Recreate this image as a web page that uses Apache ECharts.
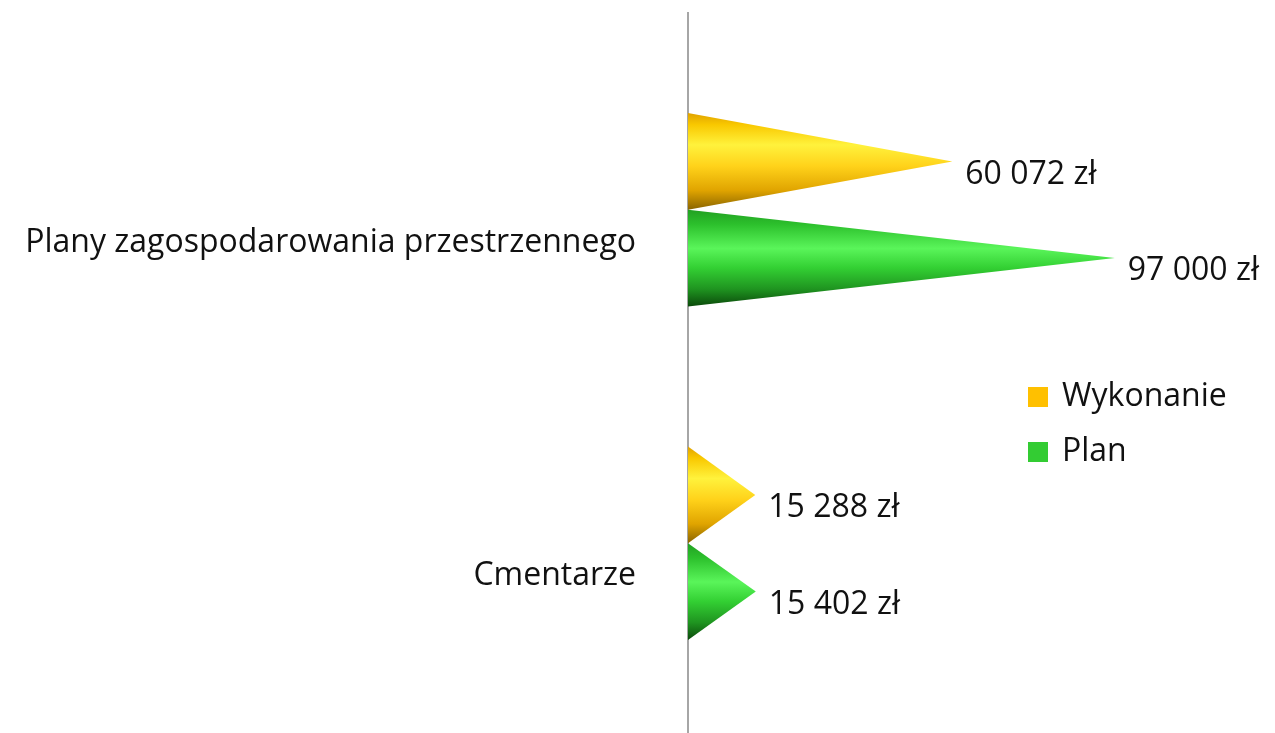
<!DOCTYPE html>
<html><head><meta charset="utf-8">
<script src="https://cdn.jsdelivr.net/npm/echarts@6/dist/echarts.min.js"></script>
<style>html,body{margin:0;padding:0;background:#fff}#c{width:1275px;height:733px}</style>
</head><body><div id="c"></div>
<script>
const categories = ['Cmentarze', 'Plany zagospodarowania przestrzennego'];
const wykonanie = [15288, 60072];
const plan = [15402, 97000];
const seriesNames = ['Wykonanie', 'Plan'];

const FONT = '"Open Sans"';
const FS = 32;
function fmt(v){ return String(v).replace(/\B(?=(\d{3})+(?!\d))/g, ' ') + ' zł'; }
const tri = 'path://M0,0 L100,50 L0,100 Z';
function grad(stops){ return {type:'linear',x:0,y:0,x2:0,y2:1,colorStops:stops}; }
const goldGrad = grad([
  {offset:0,color:'#e0a200'},{offset:0.12,color:'#f9c800'},{offset:0.33,color:'#fff23c'},
  {offset:0.55,color:'#ffd21a'},{offset:0.8,color:'#e0a400'},{offset:1,color:'#8a6400'}]);
const greenGrad = grad([
  {offset:0,color:'#22a022'},{offset:0.15,color:'#2cc02c'},{offset:0.4,color:'#5af55a'},
  {offset:0.6,color:'#33d033'},{offset:0.82,color:'#1f9420'},{offset:1,color:'#0b4a0b'}]);

const chart = echarts.init(document.getElementById('c'), null, {renderer:'canvas'});
const labelCfg = {show:true, position:'right', offset:[8,13], formatter:p=>fmt(p.value),
  fontFamily:FONT, fontSize:FS, color:'#111'};
chart.setOption({
  animation:false,
  backgroundColor:'#fff',
  grid:{left:688, right:59, top:43, bottom:23, containLabel:false},
  legend:{orient:'vertical', left:1023, top:376, itemWidth:20, itemHeight:20, itemGap:23,
    data:[{name:'Wykonanie',icon:'rect',itemStyle:{color:'#ffc000'}},{name:'Plan',icon:'rect',itemStyle:{color:'#33cc33'}}],
    textStyle:{fontFamily:FONT, fontSize:FS, color:'#111', padding:[0,0,0,9]}},
  xAxis:{type:'value', min:0, max:120000, show:false},
  yAxis:{type:'category', data:categories,
    axisLine:{show:true, lineStyle:{color:'#a6a6a6', width:2}},
    axisTick:{show:false},
    axisLabel:{fontFamily:FONT, fontSize:FS, color:'#111', margin:52, verticalAlign:'top', lineHeight:66}},
  graphic:[{type:'line', shape:{x1:688,y1:12,x2:688,y2:733}, style:{stroke:'#a6a6a6', lineWidth:2}, z:0}],
  series:[
    {name:seriesNames[0], type:'pictorialBar', data:wykonanie, symbol:tri, symbolSize:['100%','100%'],
     symbolPosition:'start', barGap:'0%', barCategoryGap:'42%', itemStyle:{color:goldGrad}, label:labelCfg},
    {name:seriesNames[1], type:'pictorialBar', data:plan, symbol:tri, symbolSize:['100%','100%'],
     symbolPosition:'start', barGap:'0%', barCategoryGap:'42%', itemStyle:{color:greenGrad}, label:labelCfg}
  ]
});
</script></body></html>
